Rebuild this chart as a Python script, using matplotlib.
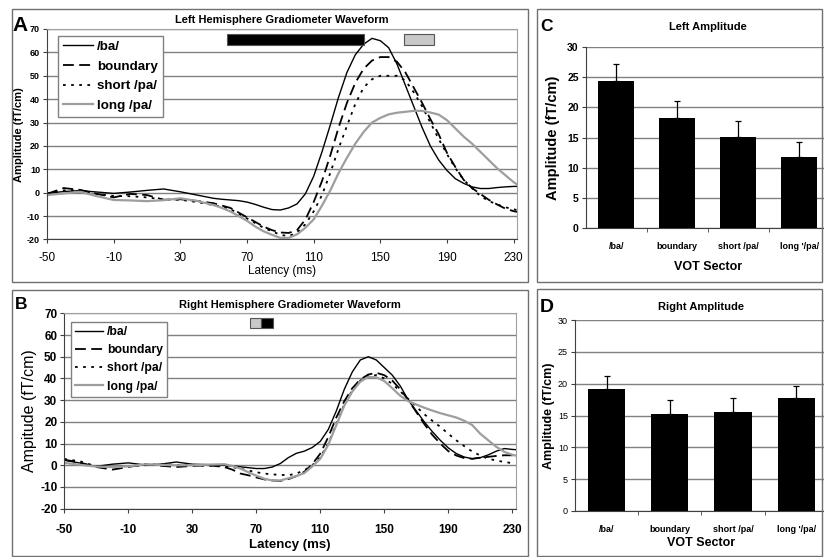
import numpy as np
import matplotlib
matplotlib.use('Agg')
import matplotlib.pyplot as plt
from matplotlib.patches import Rectangle

plt.rcParams['font.family'] = ['Liberation Sans', 'DejaVu Sans']
plt.rcParams['axes.unicode_minus'] = False

# ---- waveform data (latency in ms, amplitude in fT/cm) ----
latency = [-50, -40, -30, -20, -10, 0, 10, 20, 30, 40, 50,
           55, 60, 65, 70, 75, 80, 85, 90, 95, 100,
           105, 110, 115, 120, 125, 130, 135, 140, 145, 150,
           155, 160, 165, 170, 175, 180, 185, 190, 195, 200,
           205, 210, 215, 220, 225, 230, 232]

left_ba = [-0.3, 0.5, 0.9, 0.3, -0.3, 0.3, 1.0, 1.6, 0.4, -1.0, -2.4,
           -2.8, -3.1, -3.4, -4.0, -5.0, -6.2, -7.2, -7.4, -6.5, -4.8,
           -0.5, 7, 17.5, 29, 41, 51.5, 59, 63.5, 66, 65,
           62, 55, 46, 37, 28, 20, 14, 9.5, 6, 4,
           2.5, 1.8, 1.8, 2.2, 2.5, 2.7, 2.7]
left_boundary = [-0.5, 2.0, 1.2, -0.5, -2.0, -0.5, -1.0, -3.0, -2.8, -3.5, -4.5,
                 -5.5, -6.5, -8.5, -10.5, -12.5, -14.5, -16, -17, -17.2, -16,
                 -11.5, -4, 5, 16, 28, 38.5, 47, 53, 56.5, 58,
                 58, 56, 51.5, 45, 38.5, 31.5, 25, 17, 11, 5.5,
                 2, -0.5, -3, -5, -6.8, -7.9, -8.2]
left_short = [-0.3, 1.0, 1.0, -0.5, -1.4, -1.5, -2.0, -2.9, -3.0, -4.0, -5.3,
              -6.0, -7.0, -9, -11, -13, -15, -16.5, -18, -18.6, -17,
              -13.5, -8, -1, 8.5, 19, 28.6, 38, 45, 48.5, 50,
              50, 50, 48, 43, 37, 30, 23, 16.5, 10.5, 5.5,
              2, -1.4, -3.5, -5, -6.2, -7.1, -7.4]
left_long = [-1, -0.3, 0.4, -1.5, -3.1, -3.3, -3.6, -3.2, -2.4, -3.5, -5.3,
             -6.5, -8, -10, -12, -14.5, -16.5, -18, -19.3, -19.3, -17.8,
             -15, -11.4, -5.5, 1, 8.5, 15, 21, 26, 30, 32,
             33.5, 34.2, 34.6, 35, 35, 34.3, 33.4, 31, 27.5, 24,
             21, 17.5, 14, 10.5, 7.5, 4.5, 3.6]

right_ba = [2.3, 1.0, -0.5, 0.5, 1.1, 0.2, 0.5, 1.5, 0.5, 0.3, 0,
            -0.3, -0.7, -1.1, -1.5, -1.5, -0.8, 0.8, 3.5, 5.5, 6.5,
            8.2, 11, 16.5, 25, 35, 43, 48.5, 50, 48.5, 45,
            41.5, 36.5, 30, 25, 20, 15.5, 11.5, 8, 5.4, 3.8,
            3, 3.5, 4.8, 6.5, 7.7, 7.3, 7.2]
right_boundary = [2.6, 1.2, -0.8, -2.0, -0.8, 0.5, -0.2, -0.8, -0.3, 0, -0.8,
                  -2.0, -3.8, -4.6, -5.6, -6.5, -7.0, -7.2, -6.4, -5, -3,
                  0.5, 5.4, 13, 22, 29.5, 35.5, 39.5, 41.8, 42.6, 41.5,
                  39, 35, 30, 24.5, 19, 14, 10, 6.5, 4.5, 3.3,
                  3, 3.5, 3.9, 4.3, 4.6, 4.6, 4.6]
right_short = [2.9, 1.8, -0.5, -0.8, -0.5, 0, 0.5, 0.2, 0, -0.2, -0.3,
               -0.8, -1.6, -2.4, -3.2, -3.8, -4.2, -4.4, -4.6, -3.8, -2.3,
               0, 3.8, 10, 19, 28, 34.5, 39, 41.3, 41.5, 40,
               37.5, 34, 30.5, 27, 23.5, 20.5, 17.7, 14.5, 11.5, 8.8,
               6.3, 4.5, 3, 2.2, 1.5, 1, 0.9]
right_long = [1.1, 0.2, -0.6, -0.8, -0.5, 0.4, 0.2, 0, 0, 0.3, 0.5,
              -0.3, -1.5, -3.2, -4.8, -6.2, -7.0, -7.0, -6.0, -5, -3.6,
              -0.5, 3, 9.5, 18.5, 27.5, 34, 38.5, 40.7, 40.5, 38.8,
              35.5, 32, 29.5, 28, 26.5, 25.2, 24, 23, 22, 20.5,
              18.5, 14.5, 11.5, 8.5, 6.2, 4.8, 4.5]

series_names = ['/ba/', 'boundary', 'short /pa/', 'long /pa/']

# significance windows (start ms, end ms, colour)
left_windows = [(58, 140, 'black'), (164, 182, '#c8c8c8')]
right_windows = [(66, 73, '#c8c8c8'), (73, 80.5, 'black')]

# ---- bar data ----
sectors = ['/ba/', 'boundary', 'short /pa/', "long '/pa/"]
left_amp = [24.3, 18.3, 15.1, 11.8]
left_err = [2.8, 2.8, 2.7, 2.5]
right_amp = [19.1, 15.2, 15.6, 17.7]
right_err = [2.1, 2.3, 2.1, 1.9]

W, H = 824, 557
fig = plt.figure(figsize=(W / 100, H / 100), dpi=100)


def px_axes(x0, y0, x1, y1):
    return fig.add_axes([x0 / W, 1 - y1 / H, (x1 - x0) / W, (y1 - y0) / H])


def frame(x0, y0, x1, y1):
    fig.patches.append(Rectangle((x0 / W, 1 - y1 / H), (x1 - x0) / W, (y1 - y0) / H,
                                 transform=fig.transFigure, fill=False,
                                 edgecolor='#707070', lw=1.0))


frame(11.5, 9, 528, 281.5)
frame(11.5, 290, 528, 555.5)
frame(536.5, 8.5, 822, 281.5)
frame(536.5, 288.5, 822, 555.5)

styles = [dict(color='black', ls='-', lw=1.0),
          dict(color='black', ls=(0, (6, 3)), lw=1.3),
          dict(color='black', ls=(0, (1.5, 3)), lw=1.3),
          dict(color='#9e9e9e', ls='-', lw=1.6)]


def wave_panel(ax, curves, windows, title, tick_fs, ytick_fs, xbold, xtick_pad,
               xlabel_fs, xlabel_pad, ylabel, ylabel_fs, ylabel_bold,
               leg_pos, leg_fs, leg_space):
    for y, name, st in zip(curves, series_names, styles):
        ax.plot(latency, y, label=name, **st)
    for t0, t1, c in windows:
        ax.add_patch(Rectangle((t0, 63), t1 - t0, 4.8, facecolor=c,
                               edgecolor='#555555', lw=0.8, zorder=4))
    ax.set_xlim(-50, 232)
    ax.set_ylim(-20, 70)
    ax.set_xticks(np.arange(-50, 231, 40))
    ax.set_yticks(np.arange(-20, 71, 10))
    ax.yaxis.grid(True, color='#808080', lw=1.0)
    ax.set_axisbelow(True)
    for s in ['top', 'right']:
        ax.spines[s].set_color('#a0a0a0')
    for s in ['left', 'bottom']:
        ax.spines[s].set_color('#404040')
    ax.tick_params(axis='x', labelsize=tick_fs, length=3, color='#404040', pad=xtick_pad)
    ax.tick_params(axis='y', labelsize=ytick_fs, length=3, color='#404040', pad=2)
    for lab in ax.get_yticklabels():
        lab.set_fontweight('bold')
    for lab in ax.get_xticklabels():
        lab.set_fontweight('bold' if xbold else 'normal')
    ax.set_title(title, fontsize=8, fontweight='bold', pad=4)
    ax.set_xlabel('Latency (ms)', fontsize=xlabel_fs,
                  fontweight='bold' if xbold else 'normal', labelpad=xlabel_pad)
    ax.set_ylabel(ylabel, fontsize=ylabel_fs,
                  fontweight='bold' if ylabel_bold else 'normal', labelpad=2)
    leg = ax.legend(loc='upper left', bbox_to_anchor=leg_pos,
                    bbox_transform=fig.transFigure, fancybox=False,
                    edgecolor='#808080', framealpha=1, handlelength=2.3,
                    handletextpad=0.3, borderpad=0.35, labelspacing=leg_space,
                    borderaxespad=0, prop={'weight': 'bold', 'size': leg_fs})
    leg.get_frame().set_linewidth(1.0)


axA = px_axes(47, 29, 517, 239.5)
wave_panel(axA, [left_ba, left_boundary, left_short, left_long], left_windows,
           'Left Hemisphere Gradiometer Waveform', 8.5, 6.5, False, 6,
           8.5, 1, 'Amplitude (fT/cm)', 8, True, (58 / W, 1 - 36 / H), 9.6, 0.55)

axB = px_axes(64.3, 313.3, 515.5, 508.7)
wave_panel(axB, [right_ba, right_boundary, right_short, right_long], right_windows,
           'Right Hemisphere Gradiometer Waveform', 8.5, 8.5, True, 8,
           9.5, 2, 'Ampitude (fT/cm)', 11.5, False, (71 / W, 1 - 322 / H), 8.8, 0.5)


def bar_panel(ax, amp, err, title, ytick_bold, ytick_fs, ylabel_fs, ylabel_pad,
              title_pad, xtick_pad, xlabel_pad):
    x = np.arange(len(sectors))
    ax.bar(x, amp, width=0.59, color='black', zorder=3)
    ax.errorbar(x, amp, yerr=[np.zeros(len(err)), err], fmt='none',
                ecolor='black', elinewidth=0.9, capsize=2.5, capthick=0.9, zorder=4)
    ax.set_xlim(-0.5, len(sectors) - 0.5)
    ax.set_ylim(0, 30)
    ax.set_yticks(np.arange(0, 31, 5))
    ax.set_xticks(x)
    ax.set_xticklabels(sectors)
    ax.set_xticks(x[:-1] + 0.5, minor=True)
    ax.tick_params(axis='x', which='major', length=0, labelsize=6.5, pad=xtick_pad)
    ax.tick_params(axis='x', which='minor', length=3, color='#404040')
    ax.tick_params(axis='y', labelsize=ytick_fs, length=3, color='#404040', pad=2)
    for lab in ax.get_xticklabels():
        lab.set_fontweight('bold')
        lab.set_fontstretch('condensed')
    for lab in ax.get_yticklabels():
        lab.set_fontweight('bold' if ytick_bold else 'normal')
    ax.yaxis.grid(True, color='#808080', lw=1.0)
    ax.set_axisbelow(True)
    for s in ['top', 'right']:
        ax.spines[s].set_visible(False)
    for s in ['left', 'bottom']:
        ax.spines[s].set_color('#404040')
    ax.set_title(title, fontsize=8, fontweight='bold', pad=title_pad)
    ax.set_xlabel('VOT Sector', fontsize=9, fontweight='bold', labelpad=xlabel_pad)
    ax.set_ylabel('Amplitude (fT/cm)', fontsize=ylabel_fs, fontweight='bold',
                  labelpad=ylabel_pad)


axC = px_axes(585.7, 46.7, 829.7, 228.3)
bar_panel(axC, left_amp, left_err, 'Left Amplitude', True, 7.5, 10.5, 5.5, 12, 10, 7)

axD = px_axes(575, 320, 827.8, 511)
bar_panel(axD, right_amp, right_err, 'Right Amplitude', False, 6.5, 9, 2, 7, 10, 2)

# panel letters
for letter, (x, y, fs) in zip('ABCD', [(12, 31, 15), (15, 309, 12.5),
                                        (540, 31, 12.5), (540, 312, 14)]):
    fig.text(x / W, 1 - y / H, letter, fontsize=fs, fontweight='bold',
             ha='left', va='baseline')

fig.savefig('out.png', dpi=100)
